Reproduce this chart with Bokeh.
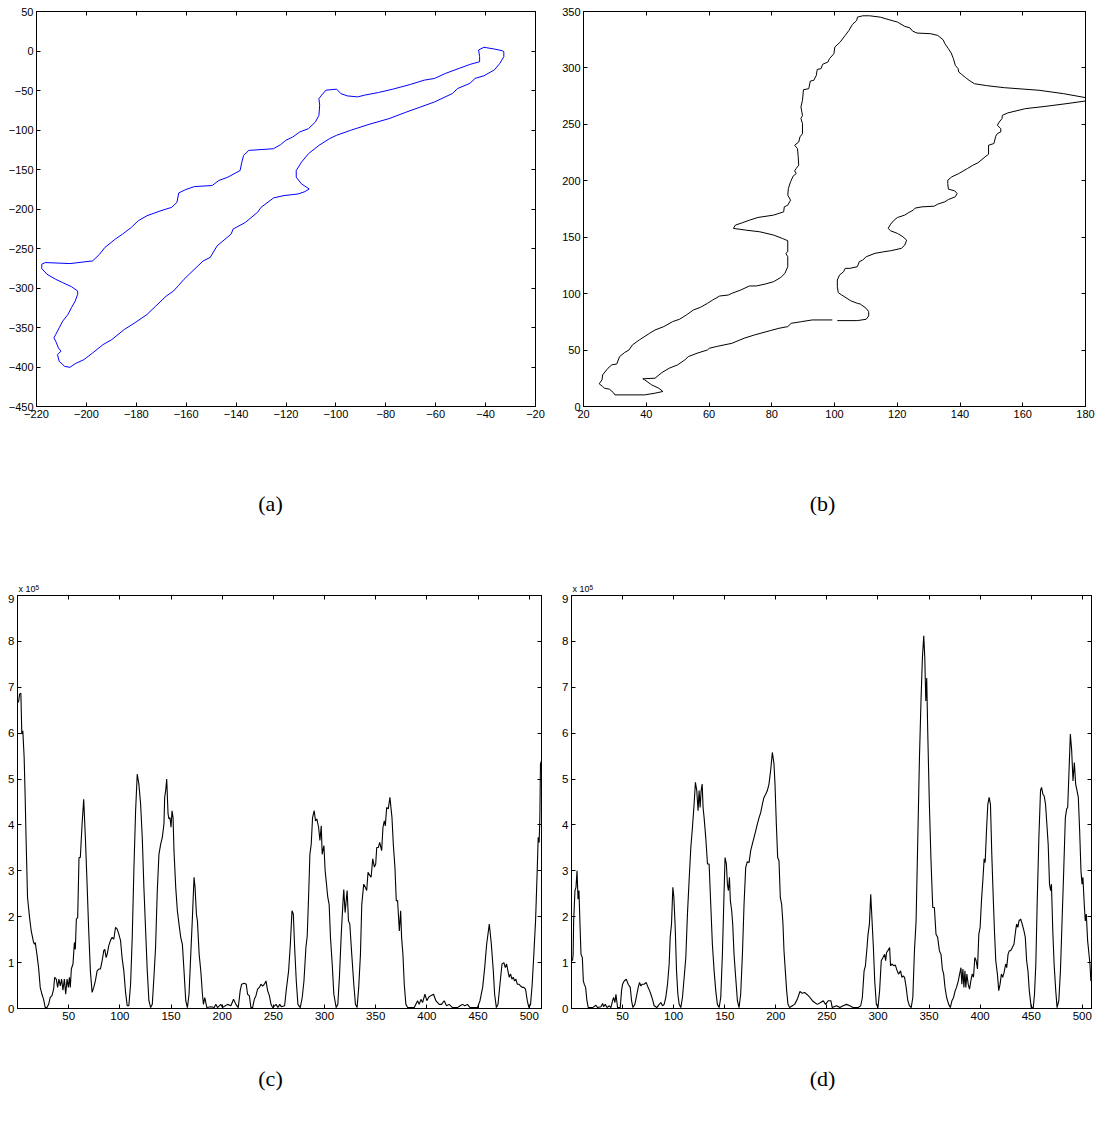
from bokeh.plotting import figure
from bokeh.models import LinearAxis, FixedTicker, Range1d
from bokeh.layouts import column, row
from bokeh.core.properties import value
from bokeh.embed import file_html
from bokeh.resources import INLINE

# ---------------- data ----------------
# (a) contour, blue
a_points = [(-32.7,-0.8),(-32.7,-7.2),(-34.3,-15.7),(-36.5,-24),(-40.7,-31.4),(-44.2,-34.7),(-46.3,-41),
 (-51.2,-47.5),(-53.3,-53.8),(-60.4,-64.4),(-66,-70.8),(-71.6,-77.1),(-78.7,-85.6),(-87.1,-93.2),(-94.1,-100.4),
 (-99.8,-106.8),(-102.6,-111),(-106.8,-119.5),(-111,-130),(-113.8,-140.7),(-115.9,-151.3),(-115.9,-159.7),
 (-113.8,-168.2),(-110.7,-174.6),(-112.4,-178),(-115.2,-181),(-120.8,-183),(-125,-186),(-126.4,-189.4),
 (-130,-197.9),(-131.4,-204.2),(-136.3,-217),(-141.2,-225.4),(-142,-231.8),(-147.6,-246.6),(-150.4,-261.4),
 (-153.2,-265.7),(-158.8,-282.6),(-160.9,-289),(-163,-296.6),(-165.1,-303.8),(-168,-310.2),(-172.2,-322.9),
 (-175.7,-333.5),(-180.6,-344.1),(-184.8,-352.5),(-189.8,-365.3),(-193.3,-371.6),(-197.5,-382.2),(-201,-390.7),
 (-204.5,-395.8),(-206.6,-400.4),(-208.7,-399.2),(-210.9,-392.8),(-211.6,-384.3),(-210.2,-380.1),(-211.2,-375.8),
 (-212.3,-367.4),(-213,-363.1),(-212.3,-358.9),(-210.9,-350.4),(-209.5,-342),(-207.4,-333.5),(-206,-325),
 (-204.5,-316.5),(-203.5,-308),(-203.5,-303.8),(-206,-298.3),(-209.5,-293.2),(-212.3,-289),(-215.8,-282.6),
 (-217.9,-275.4),(-217.9,-269.9),(-216.5,-267.8),(-206.6,-269.1),(-197.5,-265.7),(-194.7,-257.2),(-192.6,-248.7),
 (-188.4,-238.1),(-185.5,-231.8),(-182,-223.3),(-179.2,-214.8),(-175.7,-208.5),(-170.1,-202.1),(-165.8,-197.9),
 (-163.7,-191.5),(-163,-179.7),(-160.2,-175.4),(-156.7,-171.6),(-149.6,-170.3),(-146.9,-163.9),(-143.3,-159.7),
 (-138.4,-151.3),(-137.7,-140.7),(-137,-132.2),(-134.9,-125.8),(-125,-123.7),(-122.2,-118.6),(-120.1,-113.1),
 (-117.3,-108.9),(-114.5,-102.5),(-111,-98.3),(-108.2,-89.8),(-106.8,-81.4),(-106.5,-68.6),(-106.8,-60.2),
 (-105.7,-55.9),(-104,-49.6),(-99.7,-48.3),(-98.1,-53.8),(-95.5,-56.8),(-91.3,-58.1),(-88.5,-55.9),(-82.9,-52.5),
 (-77.2,-48.3),(-70.2,-42.4),(-64.6,-36.9),(-60.4,-34.7),(-56.1,-28.4),(-50.6,-22),(-46.3,-17),(-42.4,-13.6),
 (-42.4,-7.2),(-42.8,1.3),(-40.7,4.7),(-36.5,2.5),(-33.4,0.4),(-32.7,-0.8)]

# (b) contour, black (open curve with a small gap near (100, 77))
b_points = [(100.9,76.1),(107.3,76.1),(110.1,77.3),(110.9,80.2),(110.9,84),(110.1,87),(108.2,90.8),(107.3,91.4),
 (105.1,93.8),(104,95.8),(102.3,98.8),(101.2,100.9),(100.9,106.2),(100.9,112.1),(101.6,116.5),(102.9,119.4),
 (103.4,122.4),(104.9,122.4),(107.3,123.9),(107.9,128.3),(109,129.8),(110.1,132.7),(112.9,135.7),(115.7,137.1),
 (117.9,138),(121.3,140.1),(122.4,143),(123,147.4),(121.8,150.4),(120.1,153.3),(117.9,155.7),(117.1,157.8),
 (117.9,161.6),(119,165.1),(120.1,167.5),(122.4,169.6),(123.5,171.6),(125.1,174),(125.7,175.8),(127.9,176.9),
 (131.8,177.5),(132.9,179.3),(135.2,181.4),(136.3,183.4),(138.5,185.8),(139.1,188.7),(138.3,191.1),(136.3,192.6),
 (136.1,197.6),(136.1,200.5),(137.4,203.5),(139.6,206.4),(142.4,210.9),(144.1,213.8),(145.7,215.9),(148,221.2),
 (149.1,223.5),(149.1,231.5),(150.8,233),(151.4,239.5),(151.9,241.8),(153,243.3),(153,246.2),(151.9,249.2),
 (152.5,252.1),(153.4,255.1),(153.5,258),(155.2,260.1),(160.8,263.9),(167.4,266),(174.1,268.4),(180,270.7),
 (181.5,272.3),(180,273.7),(173,277.2),(165.2,280.2),(154.1,282.5),(148.5,284.3),(144.6,286),(142.9,289),
 (141.8,291.4),(140.5,294.3),(139.6,296.4),(139.4,299.3),(138.5,302.3),(137.9,308.2),(137.2,313.2),(136.3,317),
 (135.2,321.4),(134.6,325),(132.9,328.8),(130.7,330.3),(126.3,330.9),(124.9,332.6),(124,335.6),(122.4,336.8),
 (120.1,340.6),(117.4,342.7),(114.6,345),(111.2,346.2),(109,346.2),(107.3,345),(107.1,342.1),(105.7,338.5),
 (104.6,333.2),(103.4,328.8),(101.8,322.9),(100.1,318.5),(99.8,312.6),(98.4,308.2),(97.9,305.2),(96.2,303.2),
 (95.7,299.3),(94.5,298.7),(94.2,293.4),(93.4,289),(92.3,288.4),(91.8,281.6),(90.1,280.7),(89.8,271.3),
 (89.3,265.4),(89.8,258),(89.3,255.1),(89.8,250.7),(89.8,241.8),(89,238.9),(88.6,234.4),(87.3,231.5),
 (88.2,228.5),(88.4,222.6),(88.6,213.8),(87.8,210.9),(87.3,208.8),(87.8,206.4),(86.8,204.1),(86,199.1),
 (85.3,193.2),(85.1,187.3),(86,182.8),(85.1,178.4),(84,176.9),(83.8,172.5),(80.6,169.6),(75.6,167.5),
 (72.9,165.1),(70.6,162.8),(68.4,160.7),(67.8,157.8),(71.7,156.3),(76.2,154.8),(80.6,151.9),(83.4,148.9),
 (85.1,146.9),(85.1,137.1),(84.5,135.7),(85.1,132.7),(85.1,123.9),(84.2,118),(82.9,114.4),(80.6,110.6),
 (77.9,108.5),(75.1,106.8),(72.9,106.8),(70.1,103.2),(67.3,100.3),(66.2,98.8),(63.4,97.9),(61.2,94.4),
 (59.5,91.4),(57.3,87.9),(55,85.5),(52.8,81.1),(50.6,77.3),(48.4,75.2),(45.6,70.8),(42.8,67.8),(41.1,64.9),
 (37.8,59),(35.6,54.6),(34.5,50.1),(33.1,47.8),(31.5,44.2),(30.6,37.7),(29,36.9),(27.8,33.9),(26.1,28),
 (25.9,23.6),(25,20.1),(26.1,17.7),(26.7,16.2),(28.3,15.3),(29.5,12.4),(30,10.3),(39.5,10.3),(42.8,11.8),
 (45.3,13.3),(44,16.2),(41.7,19.2),(39.5,23.6),(38.9,24.5),(42.8,25.1),(45,30.1),(47.3,33.9),(50,36.9),
 (52.3,41.3),(53.4,44.2),(56.2,47.2),(59.5,50.1),(60.1,51.6),(62.3,53.1),(67.3,56),(71.2,60.5),(74.5,63.4),
 (79.5,67.2),(82.3,69.3),(85.1,70.8),(86.2,73.7),(89.5,75.2),(92.9,76.7),(99.3,76.7)]

# (c) signal, values in units of 1e5
c_points = [(1,6.67),(2,6.85),(3.3,6.87),(4.2,5.98),(5.2,6.05),(6.5,5.47),(7.5,4.6),(8.5,3.58),(9.8,2.42),
 (11.8,1.98),(13.4,1.69),(14.7,1.55),(15.7,1.44),(16.7,1.4),(17.3,1.44),(19,1.18),(20.6,0.89),(22.2,0.46),
 (23.9,0.31),(25.5,0.2),(27.1,0.02),(28.8,0.02),(30.4,0.09),(32,0.24),(33.7,0.28),(35.3,0.42),(36.3,0.68),
 (37.9,0.64),(39.2,0.46),(40.5,0.64),(41.8,0.49),(43.1,0.64),(44.4,0.4),(45.8,0.64),(47.1,0.31),(48.4,0.64),
 (49.7,0.46),(50.7,0.68),(51.6,0.46),(52.6,0.86),(54.2,0.97),(55.6,1.44),(56.5,1.29),(57.5,1.95),(58.8,1.98),
 (60.1,3.29),(61.4,3.29),(63.1,4.02),(64.7,4.56),(66.3,3.73),(68,2.71),(69.6,1.69),(71.2,0.82),(72.9,0.35),
 (74.5,0.46),(76.1,0.6),(77.8,0.82),(79.4,0.86),(81,0.86),(82.7,1.04),(84.3,1.26),(85.3,1.29),(86.6,1.11),
 (87.6,1.18),(89.2,1.37),(90.8,1.48),(92.5,1.55),(94.1,1.51),(95.8,1.77),(97.4,1.73),(99,1.62),(100.7,1.48),
 (102.3,1.08),(103.9,0.82),(105.6,0.35),(107.2,0.06),(108.8,0.06),(110.5,0.53),(112.1,1.55),(113.7,3.0),
 (115.4,4.31),(117,5.11),(118.6,4.89),(120.3,4.45),(121.9,3.73),(123.5,2.64),(125.2,1.69),(126.8,0.82),
 (128.4,0.17),(130.1,0.02),(131.7,0.09),(133.3,0.68),(134.9,1.33),(136.6,2.57),(138.2,3.36),(139.9,3.58),
 (141.5,3.73),(143.1,4.02),(143.8,4.6),(144.8,4.75),(145.8,5.0),(147.1,4.24),(148,4.13),(149,4.16),(150,3.95),
 (151,4.31),(152,4.16),(152.9,3.44),(154.6,2.64),(156.2,2.13),(157.8,1.84),(159.5,1.55),(161.1,1.4),
 (162.7,0.82),(164.4,0.17),(166,0.02),(167.6,0.31),(169.3,1.18),(170.9,1.98),(172.5,2.86),(173.5,2.64),
 (174.8,2.06),(175.8,1.91),(177.5,1.18),(179.1,0.82),(180.7,0.31),(181.7,0.09),(183,0.24),(185,0.02),
 (188.9,0.04),(192.2,0.02),(193.8,0.09),(195.4,0.02),(198.7,0.09),(200.3,0.02),(205.2,0.09),(208.5,0.06),
 (211.1,0.2),(213.4,0.09),(215.7,0.02),(217.6,0.39),(219,0.53),(221.6,0.55),(223.5,0.53),(224.8,0.31),
 (226.5,0.28),(228.1,0.02),(229.7,0.02),(231.4,0.2),(233,0.28),(234.6,0.42),(236.3,0.46),(237.9,0.53),
 (239.5,0.49),(241.2,0.53),(242.8,0.6),(244.4,0.39),(246.1,0.28),(247.7,0.09),(249.3,0.02),(252.6,0.09),
 (254.5,0.02),(256.2,0.09),(257.8,0.04),(261,0.06),(262.7,0.42),(264.9,0.82),(266.6,1.4),(268.2,2.13),
 (269.5,2.06),(270.8,1.33),(272.4,0.6),(274,0.09),(276.3,0.02),(278.2,0.24),(279.9,0.6),(281.8,1.33),
 (283.1,1.58),(284.4,2.42),(285.7,3.36),(287,3.58),(288.3,4.16),(289.9,4.31),(291.2,4.09),(292.5,4.13),
 (294.2,3.95),(295.5,3.66),(296.8,3.98),(297.7,3.36),(299.4,3.55),(300.6,3.0),(301.6,2.78),(303.2,2.42),
 (304.5,2.27),(305.8,1.55),(307.5,0.97),(309.1,0.31),(311.4,0.02),(313,0.09),(314.6,0.71),(316.2,1.55),
 (317.9,2.27),(318.8,2.59),(320.1,2.09),(322.1,2.57),(323.4,1.91),(324.7,1.84),(326.6,1.18),(328.6,0.53),
 (330.2,0.09),(331.8,0.02),(333.4,0.46),(335.1,1.18),(336.4,2.27),(338.3,2.71),(339.9,2.64),(341.2,2.57),
 (342.5,2.97),(344.2,2.9),(345.5,2.86),(347.1,3.26),(348.7,3.08),(350,3.15),(351,3.51),(352.6,3.51),
 (353.9,3.62),(355.8,3.44),(357.1,3.95),(358.4,4.09),(359.4,3.98),(360.7,4.38),(362.3,4.35),(363.9,4.6),
 (365.9,4.16),(367.2,3.58),(368.8,3.07),(370.1,2.35),(371.4,2.35),(373.1,1.69),(374.4,2.13),(375.3,1.55),
 (376.6,1.18),(377.9,0.53),(379.5,0.09),(381.2,0.02),(387.7,0.02),(390.9,0.17),(392.5,0.09),(394.2,0.2),
 (395.8,0.13),(398.1,0.31),(400,0.17),(401.9,0.25),(403.9,0.28),(406.5,0.31),(408.8,0.17),(412,0.09),
 (414.3,0.09),(416.9,0.17),(419.2,0.06),(421.8,0.09),(425,0.02),(429.9,0.02),(432.5,0.06),(434.7,0.09),
 (437,0.06),(439.6,0.09),(442.2,0.02),(449.4,0.02),(451.9,0.17),(454.5,0.46),(456.5,0.89),(458.4,1.4),
 (461,1.84),(463,1.4),(464.9,0.82),(466.2,0.31),(467.9,0.02),(469.5,0.09),(471.4,0.53),(473.4,0.97),
 (475.3,1.0),(476.6,0.89),(477.9,0.97),(479.2,0.82),(480.5,0.68),(481.8,0.75),(483.1,0.64),(484.4,0.68),
 (485.7,0.6),(487,0.64),(488.3,0.53),(489.9,0.53),(491.6,0.49),(493.2,0.46),(494.8,0.46),(496.4,0.42),
 (498.1,0.17),(499.7,0.02),(501.3,0.09),(502.9,0.53),(504.5,1.18),(506.2,1.91),(507.8,3.0),(508.8,3.73),
 (509.7,3.62),(510.4,4.16),(511,5.33),(512,5.4)]

# (d) signal, values in units of 1e5
d_points = [(1,1.04),(1.6,1.18),(2.1,1.91),(3.4,2.57),(4.4,2.64),(5.4,3.0),(6.4,2.38),(7.3,2.57),(8.3,1.84),
 (9.3,1.18),(10.6,1.11),(11.6,0.6),(12.5,0.53),(13.8,0.46),(15.1,0.17),(16.4,0.02),(20.7,0.02),(23.9,0.07),
 (25.6,0.02),(28.8,0.04),(30.5,0.11),(31.4,0.04),(33.1,0.09),(34.7,0.02),(37,0.06),(38.6,0.02),(40.2,0.17),
 (41.2,0.24),(42.5,0.13),(43.5,0.31),(44.5,0.13),(45.1,0.02),(47.7,0.02),(49,0.39),(50,0.53),(51.6,0.6),
 (53.6,0.64),(55.5,0.53),(57.5,0.46),(58.8,0.17),(60.1,0.02),(62,0.09),(63.4,0.24),(65.3,0.46),(66.6,0.57),
 (67.9,0.49),(69.2,0.53),(71.2,0.53),(73.1,0.57),(74.4,0.49),(76.4,0.39),(77.7,0.31),(79.3,0.2),(80.9,0.06),
 (83.6,0.02),(85.8,0.09),(87.5,0.13),(89.1,0.06),(90.7,0.09),(92.3,0.24),(94,0.53),(95.6,0.97),(96.6,1.55),
 (97.9,1.84),(99.2,2.64),(100.2,2.42),(101.5,1.77),(102.8,0.82),(104.1,0.31),(105.4,0.09),(107,0.02),
 (108.6,0.24),(110.3,0.68),(111.9,1.11),(113.5,2.06),(115.1,2.78),(116.8,3.51),(118.4,3.95),(120,4.45),
 (121.3,4.93),(122.6,4.75),(123.9,4.31),(124.9,4.75),(125.9,4.38),(126.9,4.75),(127.9,4.89),(128.8,4.38),
 (129.8,4.16),(131.4,3.73),(133.1,3.15),(134.7,3.15),(136.3,2.27),(137.9,1.4),(139.6,0.82),(141.2,0.39),
 (142.8,0.09),(144.5,0.02),(146.1,0.24),(147.7,1.18),(149.3,2.49),(150.3,3.29),(151.6,3.15),(152.6,2.71),
 (153.6,2.57),(154.6,2.86),(155.5,2.35),(156.8,2.13),(157.8,1.84),(159.1,1.18),(160.7,0.68),(162.4,0.17),
 (164,0.02),(165.6,0.31),(167.3,1.18),(168.9,2.27),(170.5,3.07),(172.1,3.2),(173.8,3.18),(175.4,3.44),
 (177,3.58),(178.7,3.73),(180.3,3.87),(181.9,4.02),(183.6,4.16),(185.2,4.27),(186.8,4.45),(188.4,4.6),
 (190.1,4.67),(191.7,4.75),(193.3,4.89),(194.9,5.18),(196.6,5.58),(198.2,5.33),(199.2,4.89),(200.5,4.02),
 (201.8,3.29),(203.1,3.22),(204.4,2.42),(205.7,2.27),(207,1.84),(208,1.26),(209.3,0.82),(210.6,0.39),
 (211.9,0.09),(213.5,0.02),(216.1,0.06),(218.4,0.09),(221,0.2),(223.6,0.37),(225.9,0.33),(228.2,0.35),
 (230.8,0.3),(233.4,0.24),(235.7,0.17),(238,0.13),(240.6,0.09),(243.8,0.13),(246.4,0.17),(248.7,0.09),
 (251.3,0.17),(253.9,0.17),(255.2,0.02),(259.4,0.06),(262.7,0.02),(265.9,0.06),(269.2,0.09),(272.4,0.06),
 (275.6,0.02),(280.5,0.02),(283.1,0.06),(284.7,0.24),(286.4,0.82),(287.7,0.93),(289,1.26),(290.3,1.62),
 (291.6,1.84),(292.9,2.49),(294.2,1.91),(295.5,1.33),(296.8,0.6),(298.4,0.09),(300,0.02),(301.6,0.39),
 (303.2,1.04),(304.9,1.11),(306.5,1.18),(307.5,1.04),(308.4,1.22),(309.7,1.26),(311.4,1.33),(312.3,0.93),
 (313.6,0.97),(315.6,0.93),(316.9,0.95),(318.8,0.82),(320.1,0.75),(322.1,0.82),(323.4,0.68),(324.7,0.71),
 (326,0.68),(327.6,0.46),(329.2,0.17),(330.8,0.06),(332.5,0.02),(334.1,0.24),(335.7,1.26),(337.3,1.91),
 (339,3.73),(340.6,5.47),(342.2,6.78),(343.5,7.65),(344.8,8.12),(345.8,7.65),(346.8,6.7),(347.7,7.2),
 (348.7,6.03),(350.3,4.45),(351.9,3.22),(353.6,2.2),(355.2,2.2),(356.8,1.62),(358.4,1.55),(360.1,1.26),
 (361.7,1.18),(363,0.86),(364.3,0.75),(365.6,0.46),(367.2,0.24),(369.2,0.09),(370.8,0.02),(372.4,0.17),
 (374,0.24),(375.6,0.39),(376.9,0.46),(378.6,0.6),(379.9,0.75),(381.2,0.89),(382.1,0.53),(383.1,0.86),
 (384.1,0.46),(385.1,0.82),(386,0.46),(387,0.75),(388.3,0.53),(389.6,0.42),(390.9,0.6),(392.2,0.75),
 (393.5,0.68),(394.8,1.11),(396.1,1.04),(397.4,0.86),(398.7,1.62),(400,1.77),(401.3,2.35),(402.6,2.78),
 (403.9,3.26),(404.9,3.18),(406.2,3.87),(407.5,4.45),(408.8,4.6),(410.1,4.45),(411.4,3.36),(412.7,2.49),
 (414,1.69),(415.3,1.04),(416.9,0.75),(418.2,0.39),(419.5,0.53),(420.8,0.75),(422.1,0.68),(423.4,0.78),
 (425,0.97),(426,0.89),(427.3,1.18),(428.6,1.26),(429.9,1.26),(431.5,1.33),(433.1,1.4),(434.7,1.69),
 (435.7,1.84),(437,1.77),(438,1.91),(439.6,1.95),(441.2,1.84),(442.9,1.69),(444.2,1.55),(445.5,1.04),
 (446.8,0.82),(448.1,0.39),(450,0.02),(452,0.02),(453.2,0.31),(454.5,0.97),(455.8,2.27),(457.5,3.73),
 (459.1,4.75),(460.1,4.82),(461.4,4.67),(462.7,4.63),(464,4.45),(465.3,4.02),(466.6,3.58),(467.9,2.71),
 (469,2.57),(469.8,2.71),(471.1,1.69),(472.4,0.97),(474,0.39),(475.3,0.02),(477,0.17),(478.6,0.82),
 (480.2,1.91),(481.8,3.0),(483.4,4.16),(484.7,4.35),(485.7,4.38),(487,5.18),(488.3,5.98),(489.6,5.62),
 (490.9,4.96),(492.2,5.36),(493.5,4.89),(494.8,4.75),(496.1,4.6),(497.4,3.87),(498.7,3.0),(499.7,2.71),
 (500.6,2.86),(501.9,2.27),(502.9,1.91),(503.9,2.06),(505.2,1.48),(506.2,1.26),(507.5,0.97),(508.4,0.6)]

a_xticks = list(range(-220, -19, 20))
a_yticks = list(range(-450, 51, 50))
b_xticks = list(range(20, 181, 20))
b_yticks = list(range(0, 351, 50))
cd_xticks = list(range(50, 501, 50))
cd_yticks = list(range(0, 10))
panel_labels = ["(a)", "(b)", "(c)", "(d)"]
exp_base = "x 10"
exp_power = "5"

TICK_FONT = "Liberation Sans"
PAGE_W = 1095


def make_panel(w, h, lb, rb, tb, bb, xr, yr, xt, yt, fs):
    p = figure(width=w, height=h, x_range=Range1d(*xr), y_range=Range1d(*yr),
               output_backend="svg", toolbar_location=None,
               min_border_left=lb, min_border_right=rb, min_border_top=tb, min_border_bottom=bb)
    p.xgrid.visible = False
    p.ygrid.visible = False
    p.background_fill_color = "white"
    p.border_fill_color = "white"
    p.outline_line_color = "black"
    p.outline_line_alpha = 1.0
    p.outline_line_width = 1
    for ax, ticks in ((p.xaxis[0], xt), (p.yaxis[0], yt)):
        ax.ticker = FixedTicker(ticks=ticks)
        ax.major_tick_in = 4
        ax.major_tick_out = 0
        ax.minor_tick_line_color = None
        ax.axis_line_color = "black"
        ax.major_tick_line_color = "black"
        ax.major_label_text_color = "black"
        ax.major_label_text_font = TICK_FONT
        ax.major_label_text_font_size = fs
        ax.major_label_standoff = 3
    for side, ticks in (("above", xt), ("right", yt)):
        ax = LinearAxis(ticker=FixedTicker(ticks=ticks), major_tick_in=4, major_tick_out=0,
                        minor_tick_line_color=None, major_label_text_font_size="0px",
                        major_label_text_color=None,
                        major_label_standoff=0, axis_line_color="black", major_tick_line_color="black")
        p.add_layout(ax, side)
    return p


def make_strip(y_top, y_bottom):
    # text strip whose data coordinates are page pixels (y grows downward)
    s = figure(width=PAGE_W, height=y_bottom - y_top, x_range=Range1d(0, PAGE_W),
               y_range=Range1d(y_bottom, y_top), output_backend="svg", toolbar_location=None,
               min_border=0, x_axis_location=None, y_axis_location=None)
    s.xgrid.visible = False
    s.ygrid.visible = False
    s.outline_line_color = None
    s.background_fill_color = "white"
    s.border_fill_color = "white"
    return s


def panel_texts(s, xs, ys, texts):
    s.text(x=xs, y=ys, text=texts, text_font=value("Liberation Serif"), text_font_size="22px",
           text_align="center", text_baseline="middle", text_color="black")


def exponent(s, x, y):
    s.text(x=[x], y=[y], text=[exp_base], text_font=value(TICK_FONT), text_font_size="9px",
           text_align="left", text_baseline="bottom", text_color="black")
    s.text(x=[x + 17], y=[y - 4], text=[exp_power], text_font=value(TICK_FONT), text_font_size="6.5px",
           text_align="left", text_baseline="bottom", text_color="black")


# ---- row 1: (a) and (b); frames at x 36-535 / 583-1085, y 11-406
pa = make_panel(545, 426, 36, 10, 11, 20, (-220, -20), (-450, 50), a_xticks, a_yticks, "11px")
pa.line([q[0] for q in a_points], [q[1] for q in a_points], line_color="#0000ff", line_width=1)

pb = make_panel(550, 426, 38, 10, 11, 20, (20, 180), (0, 350), b_xticks, b_yticks, "11px")
pb.line([q[0] for q in b_points], [q[1] for q in b_points], line_color="black", line_width=1)

# ---- strip 1: labels (a), (b) and exponent markers of row 2
s1 = make_strip(426, 594)
panel_texts(s1, [270, 822], [503, 503], panel_labels[:2])
exponent(s1, 18, 593)
exponent(s1, 572, 593)

# ---- row 2: (c) and (d); frames at x 17-541 / 571-1091, y 595-1008
pc = make_panel(548, 434, 17, 7, 1, 20, (0, 512), (0, 9), cd_xticks, cd_yticks, "11.5px")
pc.line([q[0] for q in c_points], [q[1] for q in c_points], line_color="black", line_width=1.1)

pd_ = make_panel(547, 434, 23, 4, 1, 20, (0, 509), (0, 9), cd_xticks, cd_yticks, "11.5px")
pd_.line([q[0] for q in d_points], [q[1] for q in d_points], line_color="black", line_width=1.1)

# ---- strip 2: labels (c), (d)
s2 = make_strip(1028, 1100)
panel_texts(s2, [270, 822], [1078, 1078], panel_labels[2:])

layout = column(row(pa, pb), s1, row(pc, pd_), s2)
open("out.html", "w").write(file_html(layout, INLINE))
